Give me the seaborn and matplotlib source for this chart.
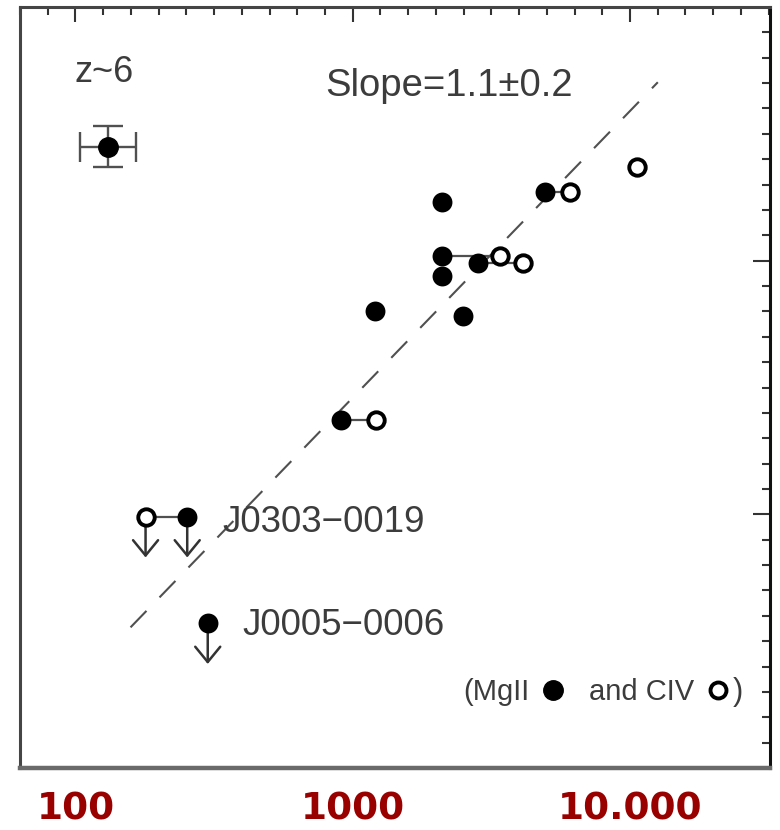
import numpy as np
import pandas as pd
import matplotlib
matplotlib.use('Agg')
import matplotlib.pyplot as plt
from matplotlib.ticker import FixedLocator, NullFormatter
from matplotlib.lines import Line2D
import seaborn as sns

# ---------------- data ----------------
# MgII-based estimates (filled circles); y is in log units
mgii_x = [2100, 2100, 2100, 2830, 2500, 1205, 4940, 910, 253, 300]
mgii_y = [9.23, 9.02, 8.94, 8.99, 8.78, 8.80, 9.27, 8.37, 7.99, 7.57]
mgii_upper = [False, False, False, False, False, False, False, False, True, True]

# CIV-based estimates (open circles)
civ_x = [3400, 4120, 6080, 10600, 1215, 179]
civ_y = [9.02, 8.99, 9.27, 9.37, 8.37, 7.99]
civ_upper = [False, False, False, False, False, True]

# same quasar measured in both lines: (MgII index, CIV index)
pair_mgii = [1, 3, 6, 7, 8]
pair_civ = [0, 1, 2, 4, 5]

# best-fit relation
fit_slope = 1.13
fit_y_at_1000 = 8.46
fit_x_range = [158, 12600]

# typical error bar
ref_err_x = [131]
ref_err_y = [9.45]
ref_err_dex_x = 0.10
ref_err_dex_y = 0.08

limit_arrow_dex = 0.16

xtick_values = [100, 1000, 10000]
xtick_labels = ['100', '1000', '10.000']
ytick_major = [8, 9]

names = ['J0303\u22120019', 'J0005\u22120006']

# ---------------- plotting ----------------
sns.set_theme(style='white')
plt.rcParams['font.family'] = ['Liberation Sans', 'DejaVu Sans']

fig = plt.figure(figsize=(7.8, 8.3), dpi=100)
ax = fig.add_axes([20 / 780, 62 / 830, 750 / 780, 761 / 830])
ax.set_xscale('log')

GRAY = '#505050'

# fit line
fx = np.array(fit_x_range, dtype=float)
fy = fit_y_at_1000 + fit_slope * (np.log10(fx) - 3.0)
ax.plot(fx, fy, color=GRAY, lw=1.5, linestyle=(0, (11, 9)), zorder=1)

# connecting lines between MgII and CIV of the same object
cx, cy, cid = [], [], []
for k, (i, j) in enumerate(zip(pair_mgii, pair_civ)):
    cx += [mgii_x[i], civ_x[j]]
    cy += [mgii_y[i], civ_y[j]]
    cid += [k, k]
conn = pd.DataFrame({'x': cx, 'y': cy, 'obj': cid})
sns.lineplot(data=conn, x='x', y='y', units='obj', estimator=None, sort=False,
             color=GRAY, lw=1.6, ax=ax, legend=False, zorder=2)

# upper-limit arrows
for xs, ys, ups in ((mgii_x, mgii_y, mgii_upper), (civ_x, civ_y, civ_upper)):
    for x, y, u in zip(xs, ys, ups):
        if u:
            ax.annotate('', xy=(x, y - limit_arrow_dex), xytext=(x, y),
                        arrowprops=dict(arrowstyle='->,head_length=0.55,head_width=0.45',
                                        color='#333333', lw=1.8, mutation_scale=20,
                                        shrinkA=0, shrinkB=0), zorder=2)

# points
sns.scatterplot(x=mgii_x, y=mgii_y, ax=ax, s=205, color='black',
                edgecolor='black', linewidth=0, zorder=4)
sns.scatterplot(x=civ_x, y=civ_y, ax=ax, s=140, color='white',
                edgecolor='black', linewidth=2.8, zorder=3)

# typical error bar
ex = np.array(ref_err_x, dtype=float)
ax.errorbar(ex, ref_err_y,
            xerr=[ex - ex / 10 ** ref_err_dex_x, ex * 10 ** ref_err_dex_x - ex],
            yerr=ref_err_dex_y, fmt='o', ms=14, mfc='black', mec='black',
            ecolor=GRAY, elinewidth=1.7, capsize=10.8, capthick=1.7, zorder=4)

# axes limits and ticks
ax.set_xlim(10 ** 1.80, 10 ** 4.505)
ax.set_ylim(7.0, 10.0)

ax.xaxis.set_major_locator(FixedLocator(xtick_values))
ax.set_xticklabels(xtick_labels, fontfamily='DejaVu Sans', fontweight='bold',
                   fontsize=27, color='#990000')
minor_x = [10 ** v for v in np.round(np.arange(1.8, 4.51, 0.1), 2)
           if abs(v - round(v)) > 1e-6]
ax.xaxis.set_minor_locator(FixedLocator(minor_x))
ax.xaxis.set_minor_formatter(NullFormatter())

ax.yaxis.set_major_locator(FixedLocator(ytick_major))
minor_y = [v for v in np.round(np.arange(7.0, 10.01, 0.1), 2) if abs(v - round(v)) > 1e-6]
ax.yaxis.set_minor_locator(FixedLocator(minor_y))
ax.yaxis.set_major_formatter(NullFormatter())
ax.yaxis.set_minor_formatter(NullFormatter())

ax.tick_params(axis='both', which='both', direction='in', top=True, right=True,
               color='#333333', width=1.5)
ax.tick_params(axis='x', which='major', length=11, pad=17)
ax.tick_params(axis='y', which='major', length=12)
ax.tick_params(axis='both', which='minor', length=6)

for side, sp in ax.spines.items():
    sp.set_visible(True)
    sp.set_linewidth(2.2)
    sp.set_color('#454545')
ax.spines['right'].set_color('#111111')
ax.spines['bottom'].set_color('#6a6a6a')
ax.spines['bottom'].set_linewidth(3.2)

ax.set_xlabel('')
ax.set_ylabel('')

# annotations
TXT = '#3c3c3c'
ax.text(55 / 750, (768 - 73) / 761, 'z~6', transform=ax.transAxes,
        ha='left', va='center', fontsize=26, color=TXT)
ax.text(305 / 750, (768 - 86) / 761, 'Slope=1.1\u00b10.2', transform=ax.transAxes,
        ha='left', va='center', fontsize=27.5, color=TXT)
ax.text(202 / 750, (768 - 522) / 761, names[0], transform=ax.transAxes,
        ha='left', va='center', fontsize=26.5, color=TXT)
ax.text(222 / 750, (768 - 625) / 761, names[1], transform=ax.transAxes,
        ha='left', va='center', fontsize=26.5, color=TXT)

# inline key "(MgII ●  and CIV ○)"
h_mg = Line2D([], [], marker='o', ls='', ms=14, mfc='black', mec='black')
h_cv = Line2D([], [], marker='o', ls='', ms=11.5, mfc='white', mec='black', mew=2.8)
leg = ax.legend(handles=[h_mg, h_cv], labels=['(MgII', 'and CIV'], ncol=2,
                markerfirst=False, frameon=False, loc='center right',
                bbox_to_anchor=((731 - 20) / 750, (768 - 692) / 761),
                borderpad=0, borderaxespad=0, handlelength=0.9,
                handletextpad=0.35, columnspacing=0.8, fontsize=21,
                labelcolor=TXT)
ax.text((733 - 20) / 750, (768 - 692) / 761, ')', transform=ax.transAxes,
        ha='left', va='center', fontsize=22, color=TXT)

fig.savefig('out.png', dpi=100)
